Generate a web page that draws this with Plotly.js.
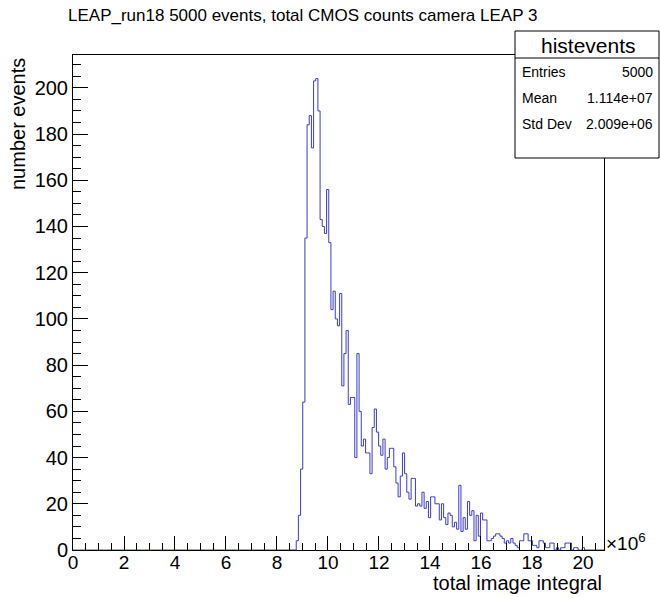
<!DOCTYPE html>
<html>
<head>
<meta charset="utf-8">
<script src="https://cdn.plot.ly/plotly-3.0.1.min.js"></script>
<style>html,body{margin:0;padding:0;background:#fff;}#chart{width:660px;height:598px;}</style>
</head>
<body>
<div id="chart"></div>
<script>
// Histogram definition (x in units of 10^6)
const binWidth = 0.085;
const nBins = 245;
const firstFilledBin = 103;
// counts of consecutive bins starting at firstFilledBin (all other bins are empty)
const counts = [
  4,15,35,64,135,184,188,174,203,204,190,143,140,137,156,133,
  104,112,100,97,111,71,85,95,63,66,66,40,85,60,45,48,42,42,33,53,61,51,45,41,48,35,40,44,44,36,29,23,
  32,42,33,25,22,31,31,19,20,19,25,18,21,14,23,23,20,20,13,20,14,11,16,15,10,12,9,28,8,14,9,21,
  15,17,4,15,6,16,13,13,4,4,5,6,7,7,6,5,3,4,3,5,3,2,1,4,4,7,7,4,4,2,
  2,1,4,4,3,1,1,3,3,0,1,0,1,1,3,3,3,0,1,1,0,0,1
];
const xTickVals = [0,2,4,6,8,10,12,14,16,18,20];
const xTickText = ["0","2","4","6","8","10","12","14","16","18","20"];
const statLabels = ["Entries","Mean","Std Dev"];
const statValues = ["5000","1.114e+07","2.009e+06"];

// build step outline
const xs = [], ys = [];
for (let i = 0; i < nBins; i++) {
  const k = i - firstFilledBin;
  const c = (k >= 0 && k < counts.length) ? counts[k] : 0;
  xs.push(i * binWidth);
  ys.push(c);
}
xs.push(nBins * binWidth);
ys.push(ys[ys.length - 1]);

const ymax = Math.max(...counts) * 1.05;
const font = "Liberation Sans, Arial, Helvetica, sans-serif";

// pixel helpers for paper coords (plot area: x 73..604, y 55..550)
const L = 73, R = 604, T = 55, B = 550;
const px = v => (v - L) / (R - L);
const py = v => (B - v) / (B - T);

const annotations = [
  {text: "number events", textangle: -90, xref: "paper", yref: "paper",
   x: px(18), y: 1, xanchor: "center", yanchor: "top", yshift: -1, showarrow: false,
   font: {family: font, size: 20, color: "#000"}},
  {text: "total image integral", xref: "paper", yref: "paper", x: 1, y: 0,
   xanchor: "right", yanchor: "middle", yshift: -33, showarrow: false,
   font: {family: font, size: 20, color: "#000"}},
  {text: "×10<sup>6</sup>", xref: "paper", yref: "paper", x: px(604), y: py(542),
   xanchor: "left", yanchor: "middle", showarrow: false,
   font: {family: font, size: 19, color: "#000"}},
  {text: "histevents", xref: "paper", yref: "paper", x: px(588), y: py(45),
   xanchor: "center", yanchor: "middle", showarrow: false,
   font: {family: font, size: 21, color: "#000"}}
];
const rowY = [72, 98, 124];
for (let i = 0; i < statLabels.length; i++) {
  annotations.push({text: statLabels[i], xref: "paper", yref: "paper", x: px(520), y: py(rowY[i]),
    xanchor: "left", yanchor: "middle", showarrow: false, font: {family: font, size: 14, color: "#000"}});
  annotations.push({text: statValues[i], xref: "paper", yref: "paper", x: px(655), y: py(rowY[i]),
    xanchor: "right", yanchor: "middle", showarrow: false, font: {family: font, size: 14, color: "#000"}});
}

const shapes = [
  {type: "rect", xref: "paper", yref: "paper", x0: px(515), x1: px(659), y0: py(158), y1: py(31),
   line: {color: "#000", width: 1}, fillcolor: "#fff", layer: "above"},
  {type: "line", xref: "paper", yref: "paper", x0: px(515), x1: px(659), y0: py(58), y1: py(58),
   line: {color: "#000", width: 1}, layer: "above"}
];

const trace = {
  x: xs, y: ys, type: "scatter", mode: "lines",
  line: {shape: "hv", color: "#3c3cc8", width: 1},
  hoverinfo: "skip"
};

const layout = {
  width: 660, height: 598,
  margin: {l: L, r: 660 - R, t: T, b: 598 - B, pad: 0},
  paper_bgcolor: "#fff", plot_bgcolor: "#fff",
  showlegend: false,
  title: {text: "LEAP_run18 5000 events, total CMOS counts camera LEAP 3",
    xref: "container", yref: "container", x: 68 / 660, xanchor: "left",
    y: 1 - 15 / 598, yanchor: "middle", font: {family: font, size: 17, color: "#000"}},
  xaxis: {range: [0, nBins * binWidth], tickmode: "array", tickvals: xTickVals, ticktext: xTickText,
    ticks: "inside", ticklen: 14, tickwidth: 1, tickcolor: "#000", ticklabelstandoff: -5,
    minor: {dtick: 0.5, tick0: 0, ticks: "inside", ticklen: 7, tickcolor: "#000", showgrid: false},
    showgrid: false, zeroline: false, showline: true, linecolor: "#000", linewidth: 1, mirror: true,
    tickfont: {family: font, size: 19, color: "#000"}},
  yaxis: {range: [0, ymax], dtick: 20, tick0: 0,
    ticks: "inside", ticklen: 15, tickwidth: 1, tickcolor: "#000",
    minor: {dtick: 5, tick0: 0, ticks: "inside", ticklen: 8, tickcolor: "#000", showgrid: false},
    showgrid: false, zeroline: false, showline: true, linecolor: "#000", linewidth: 1, mirror: true,
    tickfont: {family: font, size: 20, color: "#000"}},
  annotations: annotations,
  shapes: shapes
};

Plotly.newPlot("chart", [trace], layout, {staticPlot: true, displayModeBar: false});
</script>
</body>
</html>
